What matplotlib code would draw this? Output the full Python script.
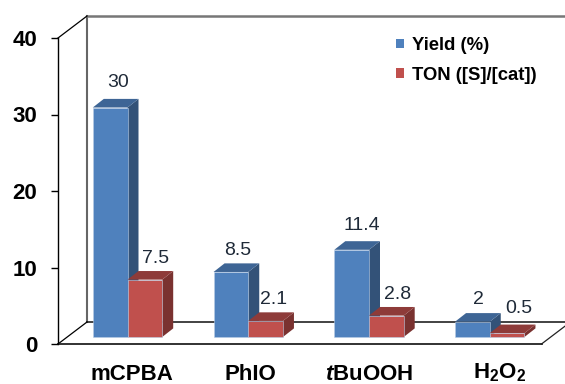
import matplotlib
matplotlib.use("Agg")
import matplotlib.pyplot as plt
from matplotlib.patches import Patch, Polygon

plt.rcParams['font.family'] = ['Liberation Sans', 'DejaVu Sans']
plt.rcParams['mathtext.fontset'] = 'custom'
plt.rcParams['mathtext.bf'] = 'Liberation Sans:bold'
plt.rcParams['mathtext.it'] = 'Liberation Sans:italic:bold'
plt.rcParams['mathtext.rm'] = 'Liberation Sans:bold'

categories = ["mCPBA", "PhIO", r"$\mathit{t}\mathbf{BuOOH}$", r"$\mathbf{H_2O_2}$"]
yield_pct = [30, 8.5, 11.4, 2]
ton = [7.5, 2.1, 2.8, 0.5]
yield_labels = ["30", "8.5", "11.4", "2"]
ton_labels = ["7.5", "2.1", "2.8", "0.5"]
yticks = [0, 10, 20, 30, 40]

# sizes in pixels, converted to data units below
W, H = 565, 384
PX_X = 120.75
PX_Y = 7.65
dep_x, dep_y = 11 / PX_X, 8.6 / PX_Y
bar_w = 34.7 / PX_X
base = 7 / PX_Y
wall_x, wall_y = 29 / PX_X, 22 / PX_Y

BLUE = ("#4F81BD", "#3E6595", "#335278")
RED = ("#C0504D", "#8E3B39", "#7A3230")
TEXT = "#1F2A38"

fig = plt.figure(figsize=(W / 100, H / 100), dpi=100)
ax = fig.add_axes([0, 0, 1, 1])
ax.set_xlim(-127.5 / PX_X, (W - 127.5) / PX_X)
ax.set_ylim(-(H - 344) / PX_Y, 344 / PX_Y)
ax.patch.set_visible(False)

x0 = -69.5 / PX_X
x_end = 414 / PX_X

# only the left spine stays, it carries the value axis
for s in ["top", "right", "bottom"]:
    ax.spines[s].set_visible(False)
ax.spines["left"].set_position(("data", x0))
ax.spines["left"].set_bounds(0, 40)
ax.spines["left"].set_linewidth(1.0)
ax.set_xticks([])
ax.set_yticks(yticks)
ax.tick_params(axis="y", length=5, width=1.0, pad=10, labelsize=16)
for lab in ax.get_yticklabels():
    lab.set_fontweight("bold")

# back wall and floor
back_x = x0 + wall_x
right = x_end + wall_x
ax.plot([back_x, back_x], [wall_y, 40 + wall_y], color="#666666", lw=1.5, zorder=1)
ax.plot([back_x, right], [40 + wall_y, 40 + wall_y], color="#777777", lw=1.8, zorder=1)
ax.plot([back_x, right], [wall_y, wall_y], color="#222222", lw=1.2, zorder=1)
ax.plot([x0, back_x], [40, 40 + wall_y], color="black", lw=0.9, zorder=1)
ax.plot([x0, back_x], [0, wall_y], color="black", lw=0.9, zorder=1)
ax.plot([x0, x_end], [0, 0], color="#222222", lw=1.3, zorder=1)
ax.plot([x_end, right], [0, wall_y], color="#222222", lw=0.9, zorder=1)


def bar3d(left, value, colors):
    r = left + bar_w
    top = base + value
    ax.add_patch(Polygon([(r, base), (r + dep_x, base + dep_y), (r + dep_x, top + dep_y), (r, top)],
                         facecolor=colors[2], edgecolor="none", zorder=3))
    ax.add_patch(Polygon([(left, top), (r, top), (r + dep_x, top + dep_y), (left + dep_x, top + dep_y)],
                         facecolor=colors[1], edgecolor="none", zorder=3))
    ax.add_patch(Polygon([(left, base), (r, base), (r, top), (left, top)],
                         facecolor=colors[0], edgecolor="#B9CDE5", lw=0.4, zorder=3))


def value_label(x, value, text, off):
    ax.annotate(text, (x + bar_w / 2, base + value + dep_y), xytext=(off[0] * 0.72, off[1] * 0.72),
                textcoords="offset points", ha="center", va="center", fontsize=14, color=TEXT, zorder=5)


yield_off = [(8, 16), (7, 12.5), (10, 15.5), (6.5, 13.5)]
ton_off = [(11, 12.5), (8, 12.5), (11, 12.5), (12, 16.5)]
cat_off = [4.5, 2, 0, 10]
cat_drop = [36, 36, 36, 34]

for i in range(len(categories)):
    bar3d(i - bar_w, yield_pct[i], BLUE)
    bar3d(i, ton[i], RED)
    value_label(i - bar_w, yield_pct[i], yield_labels[i], yield_off[i])
    value_label(i, ton[i], ton_labels[i], ton_off[i])
    ax.annotate(categories[i], (i, 0), xytext=(cat_off[i] * 0.72, -cat_drop[i] * 0.72), textcoords="offset points",
                ha="center", va="baseline", fontsize=16, fontweight="bold", color="black")

handles = [Patch(facecolor=BLUE[0], label="Yield (%)"), Patch(facecolor=RED[0], label="TON ([S]/[cat])")]
ax.legend(handles=handles, loc="upper left", bbox_to_anchor=(396 / W, 1 - 37 / H), frameon=False,
          prop={"weight": "bold", "size": 13.3}, handlelength=0.43, handleheight=0.43, handletextpad=0.43,
          labelspacing=0.7, borderpad=0, borderaxespad=0)

fig.savefig("out.png", dpi=100)
